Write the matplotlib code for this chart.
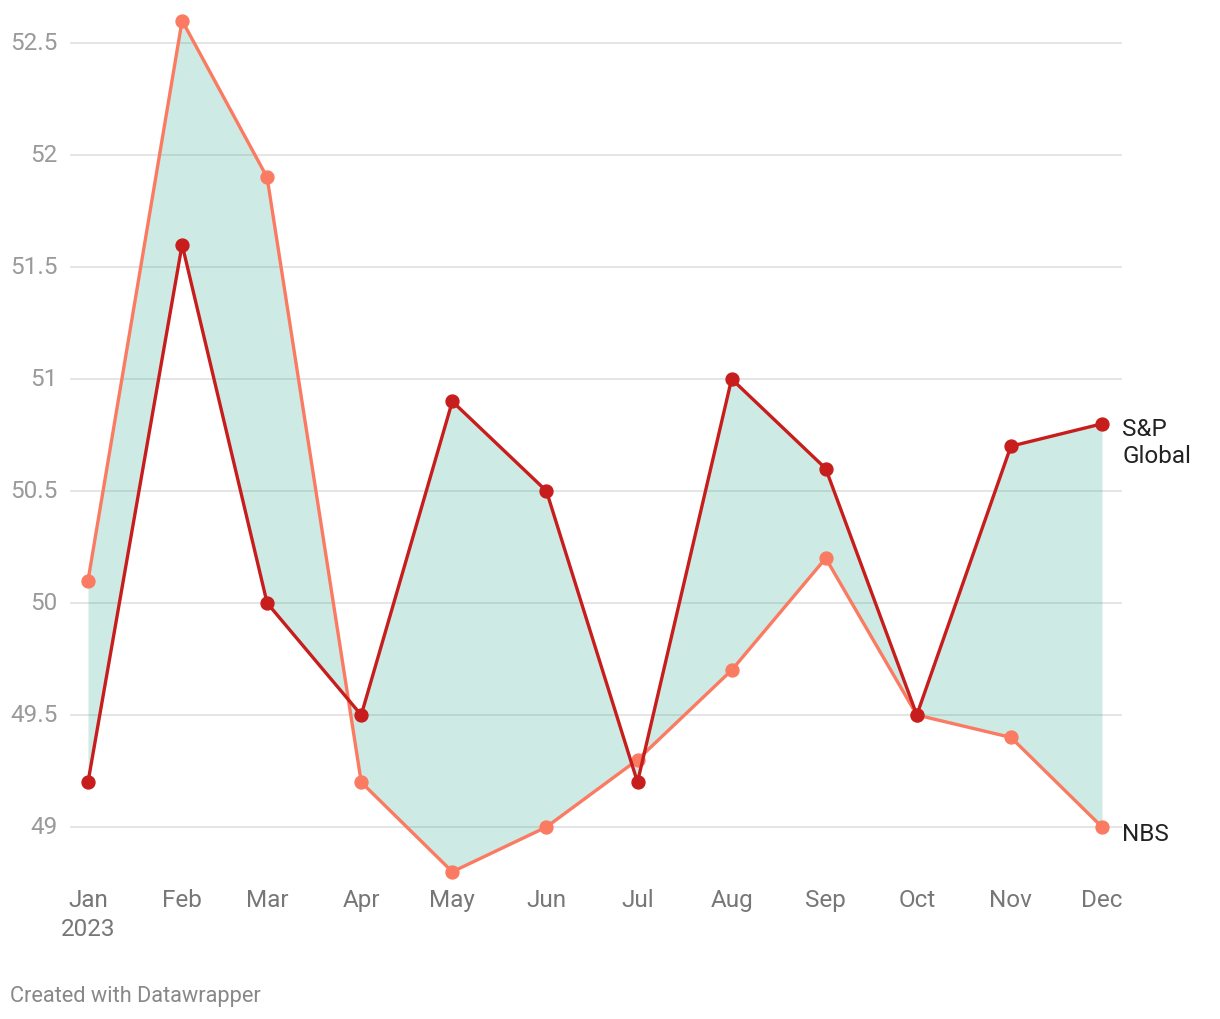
import matplotlib
matplotlib.use("Agg")
import matplotlib.pyplot as plt
import matplotlib.dates as mdates
import numpy as np
import datetime as dt

plt.rcParams['font.family'] = ['Roboto', 'DejaVu Sans']

months = ["Jan", "Feb", "Mar", "Apr", "May", "Jun", "Jul", "Aug", "Sep", "Oct", "Nov", "Dec"]
year = 2023
nbs = [50.1, 52.6, 51.9, 49.2, 48.8, 49.0, 49.3, 49.7, 50.2, 49.5, 49.4, 49.0]
sp_global = [49.2, 51.6, 50.0, 49.5, 50.9, 50.5, 49.2, 51.0, 50.6, 49.5, 50.7, 50.8]
y_ticks = [49, 49.5, 50, 50.5, 51, 51.5, 52, 52.5]
y_tick_labels = ["49", "49.5", "50", "50.5", "51", "51.5", "52", "52.5"]

dates = [dt.date(year, i + 1, 1) for i in range(12)]
xd = mdates.date2num(dates)

W, H = 1220, 1020
fig = plt.figure(figsize=(W / 100, H / 100), dpi=100)
ax = fig.add_axes([70 / W, 1 - 882 / H, (1122 - 70) / W, (882 - 12) / H])

nbs_c = '#fa7b62'
sp_c = '#c71e1d'

ax.fill_between(xd, nbs, sp_global, color='#0b9a7a', alpha=0.2, linewidth=0, zorder=2)
ax.plot(xd, nbs, color=nbs_c, lw=2.4, marker='o', ms=9.3, zorder=3)
ax.plot(xd, sp_global, color=sp_c, lw=2.4, marker='o', ms=9.3, zorder=4)

px_per_day = (1102 - 88) / (xd[-1] - xd[0])
ax.set_xlim(xd[0] - 18 / px_per_day, xd[-1] + 20 / px_per_day)
ax.set_ylim(49 - 54 / 224, 52.5 + 32 / 224)

ax.set_yticks(y_ticks)
ax.set_yticklabels(y_tick_labels)
ax.grid(axis='y', color='#e3e3e3', lw=1.3, zorder=0)
ax.set_axisbelow(True)
ax.tick_params(axis='y', length=0, pad=9, labelsize=17.5, labelcolor='#9a9a9a')
for lab in ax.get_yticklabels():
    lab.set_verticalalignment('center')

xlabels = [m if i else f"{m}\n{year}" for i, m in enumerate(months)]
ax.set_xticks(xd)
ax.set_xticklabels(xlabels, linespacing=1.35)
ax.tick_params(axis='x', length=0, pad=5, labelsize=17.5, labelcolor='#777777')
for lab in ax.get_xticklabels():
    lab.set_verticalalignment('top')

for s in ax.spines.values():
    s.set_visible(False)

ax.annotate("S&P\nGlobal", xy=(xd[-1], sp_global[-1]), xytext=(20, 7), textcoords='offset pixels',
            ha='left', va='top', fontsize=17.5, color='#222222', linespacing=1.25,
            annotation_clip=False)
ax.annotate("NBS", xy=(xd[-1], nbs[-1]), xytext=(20, -7), textcoords='offset pixels',
            ha='left', va='center', fontsize=17.5, color='#222222', annotation_clip=False)

fig.text(10 / W, 1 - 997 / H, "Created with Datawrapper", ha='left', va='center',
         fontsize=15.7, color='#888888')

fig.savefig("out.png", dpi=100)
